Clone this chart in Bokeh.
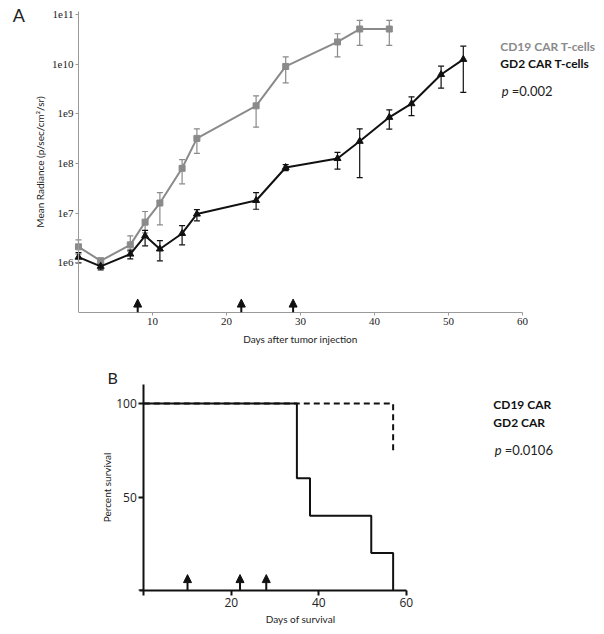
from bokeh.plotting import figure
from bokeh.models import (ColumnDataSource, Whisker, TeeHead, Arrow, NormalHead, Label,
                          FixedTicker, CustomJSTickFormatter, Range1d)
from bokeh.layouts import column
from bokeh.embed import file_html
from bokeh.resources import INLINE

# ---------------- data: panel A (mean radiance) ----------------
cd19_days = [0, 3, 7, 9, 11, 14, 16, 24, 28, 35, 38, 42]
cd19_mean = [2.1e6, 1.1e6, 2.3e6, 6.6e6, 1.6e7, 8.0e7, 3.2e8, 1.45e9, 9.0e9, 2.8e10, 5.1e10, 5.1e10]
cd19_upper = [2.9e6, 1.25e6, 3.5e6, 1.08e7, 2.6e7, 1.2e8, 5.0e8, 2.3e9, 1.4e10, 4.1e10, 7.6e10, 7.6e10]
cd19_lower = [1.5e6, 0.95e6, 1.7e6, 4.0e6, 5.8e6, 3.9e7, 1.6e8, 5.4e8, 4.2e9, 1.4e10, 2.4e10, 2.4e10]

gd2_days = [0, 3, 7, 9, 11, 14, 16, 24, 28, 35, 38, 42, 45, 49, 52]
gd2_mean = [1.3e6, 8.5e5, 1.5e6, 3.5e6, 1.9e6, 3.9e6, 9.6e6, 1.8e7, 8.3e7, 1.26e8, 2.8e8, 8.5e8, 1.6e9, 6.2e9, 1.25e10]
gd2_upper = [1.6e6, 9.5e5, 1.8e6, 4.5e6, 2.8e6, 5.6e6, 1.18e7, 2.6e7, 9.5e7, 1.67e8, 5.0e8, 1.2e9, 2.2e9, 9.1e9, 2.3e10]
gd2_lower = [1.0e6, 7.2e5, 1.2e6, 2.2e6, 1.1e6, 2.3e6, 7.0e6, 1.2e7, 7.2e7, 7.7e7, 5.2e7, 4.9e8, 9.2e8, 3.3e9, 2.7e9]

injection_days_a = [8, 22, 29]
a_xticks = [10, 20, 30, 40, 50, 60]
a_yticks = [1e6, 1e7, 1e8, 1e9, 1e10, 1e11]

# ---------------- data: panel B (survival) ----------------
cd19_surv_days = [0, 35, 38, 52, 57]
cd19_surv = [100, 60, 40, 20, 0]
gd2_surv_days = [0, 57]
gd2_surv = [100, 75]
injection_days_b = [10, 22, 28]
b_xticks = [0, 20, 40, 60]
b_yticks = [0, 50, 100]

GRAY = "#8a8a8a"
BLACK = "#111111"
LABEL_FONT = "Lato"

# ================= Panel A =================
pA = figure(width=600, height=355, y_axis_type="log",
            x_range=Range1d(-10.54, 70.54), y_range=Range1d(1e5, 10 ** 11.282),
            output_backend="svg", toolbar_location=None,
            min_border_left=0, min_border_right=0, min_border_top=0, min_border_bottom=43)
pA.frame_align = False
pA.outline_line_color = None
pA.xgrid.grid_line_color = None
pA.ygrid.grid_line_color = None

src_c = ColumnDataSource(dict(x=cd19_days, y=cd19_mean, up=cd19_upper, lo=cd19_lower))
src_g = ColumnDataSource(dict(x=gd2_days, y=gd2_mean, up=gd2_upper, lo=gd2_lower))

for src, col in ((src_c, GRAY), (src_g, BLACK)):
    w = Whisker(source=src, base="x", upper="up", lower="lo", dimension="height",
                line_color=col, line_width=1.2,
                upper_head=TeeHead(size=6, line_color=col, line_width=1.2),
                lower_head=TeeHead(size=6, line_color=col, line_width=1.2))
    pA.add_layout(w)

pA.line("x", "y", source=src_c, line_color=GRAY, line_width=2)
pA.scatter("x", "y", source=src_c, marker="square", size=6, fill_color=GRAY, line_color=GRAY)
pA.line("x", "y", source=src_g, line_color=BLACK, line_width=2)
pA.scatter("x", "y", source=src_g, marker="triangle", size=7, fill_color=BLACK, line_color=BLACK)

for d in injection_days_a:
    pA.add_layout(Arrow(x_start=d, y_start=1e5, x_end=d, y_end=10 ** 5.27,
                        line_color=BLACK, line_width=2,
                        end=NormalHead(size=8, fill_color=BLACK, line_color=BLACK, line_width=1)))

pA.xaxis.ticker = FixedTicker(ticks=a_xticks)
pA.xaxis.bounds = (0, 60)
pA.yaxis.ticker = FixedTicker(ticks=a_yticks)
pA.yaxis.bounds = (1e5, 10 ** 11.06)
pA.yaxis.fixed_location = 0
pA.yaxis.formatter = CustomJSTickFormatter(code="return '1e' + Math.round(Math.log10(tick));")
for ax in (pA.xaxis, pA.yaxis):
    ax.axis_line_color = "#9a9a9a"
    ax.major_tick_line_color = "#9a9a9a"
    ax.minor_tick_line_color = None
    ax.major_tick_in = 0
    ax.major_tick_out = 3
    ax.major_label_text_font = "Liberation Serif"
    ax.major_label_text_font_size = "11px"
    ax.major_label_text_color = "#222222"
    ax.major_label_standoff = 2
    ax.axis_label_text_font = LABEL_FONT
    ax.axis_label_text_font_size = "10px"
    ax.axis_label_text_font_style = "normal"
    ax.axis_label_text_color = "#222222"
    ax.axis_label_standoff = 5
pA.yaxis.axis_label_standoff = 3
pA.xaxis.axis_label = "Days after tumor injection"
pA.yaxis.axis_label = "Mean Radiance (p/sec/cm²/sr)"

pA.add_layout(Label(x=-8.9, y=10 ** 10.98, text="A", text_font=LABEL_FONT, text_font_size="18px",
                    text_baseline="middle", text_align="left", text_color="#222222"))
pA.add_layout(Label(x=57.0, y=10 ** 10.355, text="CD19 CAR T-cells", text_font=LABEL_FONT,
                    text_font_size="12px", text_font_style="bold", text_color=GRAY,
                    text_baseline="middle"))
pA.add_layout(Label(x=57.0, y=10 ** 10.012, text="GD2 CAR T-cells", text_font=LABEL_FONT,
                    text_font_size="12px", text_font_style="bold", text_color=BLACK,
                    text_baseline="middle"))
pA.add_layout(Label(x=57.2, y=10 ** 9.458, text="p", text_font=LABEL_FONT,
                    text_font_size="13px", text_font_style="italic", text_color="#222222",
                    text_baseline="middle"))
pA.add_layout(Label(x=57.2, y=10 ** 9.458, x_offset=10, text="=0.002", text_font=LABEL_FONT,
                    text_font_size="13px", text_color="#222222", text_baseline="middle"))

# ================= Panel B =================
pB = figure(width=600, height=277, x_range=Range1d(-32.75, 104.4), y_range=Range1d(0, 125.7),
            output_backend="svg", toolbar_location=None,
            min_border_left=0, min_border_right=0, min_border_top=0, min_border_bottom=42)
pB.frame_align = False
pB.outline_line_color = None
pB.xgrid.grid_line_color = None
pB.ygrid.grid_line_color = None

pB.step(cd19_surv_days, cd19_surv, mode="after", line_color=BLACK, line_width=2)
pB.step(gd2_surv_days, gd2_surv, mode="after", line_color=BLACK, line_width=2, line_dash="6 4")

for d in injection_days_b:
    pB.add_layout(Arrow(x_start=d, y_start=0, x_end=d, y_end=8.5,
                        line_color=BLACK, line_width=2,
                        end=NormalHead(size=8, fill_color=BLACK, line_color=BLACK, line_width=1)))

pB.xaxis.ticker = FixedTicker(ticks=b_xticks)
pB.xaxis.bounds = (-1, 60)
pB.yaxis.ticker = FixedTicker(ticks=b_yticks)
pB.yaxis.bounds = (0, 110)
pB.yaxis.fixed_location = 0
pB.xaxis.formatter = CustomJSTickFormatter(code="return tick == 0 ? '' : tick.toString();")
pB.yaxis.formatter = CustomJSTickFormatter(code="return tick == 0 ? '' : tick.toString();")
for ax in (pB.xaxis, pB.yaxis):
    ax.axis_line_color = BLACK
    ax.axis_line_width = 2
    ax.major_tick_line_color = BLACK
    ax.major_tick_line_width = 2
    ax.minor_tick_line_color = None
    ax.major_tick_in = 0
    ax.major_tick_out = 5
    ax.major_label_text_font = "Open Sans"
    ax.major_label_text_font_size = "12px"
    ax.major_label_text_color = "#222222"
    ax.major_label_standoff = 2
    ax.axis_label_text_font = LABEL_FONT
    ax.axis_label_text_font_size = "10px"
    ax.axis_label_text_font_style = "normal"
    ax.axis_label_text_color = "#222222"
    ax.axis_label_standoff = 3
pB.yaxis.axis_label_standoff = 0
pB.xaxis.axis_label = "Days of survival"
pB.yaxis.axis_label = "Percent survival"

pB.add_layout(Label(x=-8.3, y=113.9, text="B", text_font=LABEL_FONT, text_font_size="16px",
                    text_baseline="middle", text_align="left", text_color="#222222"))
pB.add_layout(Label(x=79.9, y=99.5, text="CD19 CAR", text_font=LABEL_FONT,
                    text_font_size="12px", text_font_style="bold", text_color=BLACK,
                    text_baseline="middle"))
pB.add_layout(Label(x=79.9, y=90.0, text="GD2 CAR", text_font=LABEL_FONT,
                    text_font_size="12px", text_font_style="bold", text_color=BLACK,
                    text_baseline="middle"))
pB.add_layout(Label(x=80.2, y=74.9, text="p", text_font=LABEL_FONT,
                    text_font_size="13px", text_font_style="italic", text_color="#222222",
                    text_baseline="middle"))
pB.add_layout(Label(x=80.2, y=74.9, x_offset=10, text="=0.0106", text_font=LABEL_FONT,
                    text_font_size="13px", text_color="#222222", text_baseline="middle"))

layout = column(pA, pB, spacing=0)
open("out.html", "w").write(file_html(layout, INLINE))
